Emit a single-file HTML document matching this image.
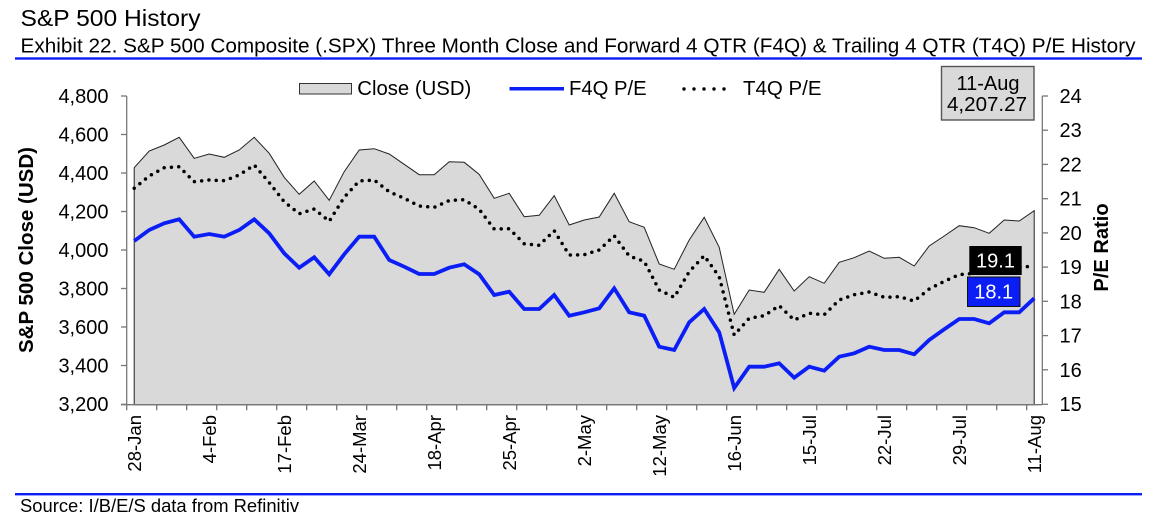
<!DOCTYPE html>
<html>
<head>
<meta charset="utf-8">
<style>
  html,body{margin:0;padding:0;background:#fff;}
  body{width:1175px;height:527px;overflow:hidden;}
  svg{display:block;font-family:"Liberation Sans",Arial,sans-serif;}
</style>
</head>
<body>
<svg width="1175" height="527" viewBox="0 0 1175 527" xmlns="http://www.w3.org/2000/svg">
  <!-- Header -->
  <text x="20.5" y="26" font-size="23.5" fill="#000" textLength="180" lengthAdjust="spacingAndGlyphs">S&amp;P 500 History</text>
  <text x="20.5" y="52.5" font-size="20" fill="#000" textLength="1115" lengthAdjust="spacingAndGlyphs">Exhibit 22. S&amp;P 500 Composite (.SPX) Three Month Close and Forward 4 QTR (F4Q) &amp; Trailing 4 QTR (T4Q) P/E History</text>
  <rect x="15" y="57.3" width="1127" height="2.4" fill="#0a1ef5"/>

  <!-- Legend -->
  <rect x="299.5" y="83.5" width="52" height="10.5" fill="#d9d9d9" stroke="#333" stroke-width="1"/>
  <text x="357.3" y="95" font-size="20" fill="#000" textLength="114" lengthAdjust="spacingAndGlyphs">Close (USD)</text>
  <line x1="509.5" y1="88.7" x2="564" y2="88.7" stroke="#0a1ef5" stroke-width="3.5"/>
  <text x="569" y="95" font-size="20" fill="#000" textLength="77.7" lengthAdjust="spacingAndGlyphs">F4Q P/E</text>
  <line x1="684" y1="89" x2="734" y2="89" stroke="#000" stroke-width="3.4" stroke-linecap="round" stroke-dasharray="0 10"/>
  <text x="743" y="95" font-size="20" fill="#000" textLength="78.5" lengthAdjust="spacingAndGlyphs">T4Q P/E</text>

  <!-- Date box -->
  <rect x="941.5" y="66.5" width="92.5" height="53.5" fill="#d9d9d9" stroke="#555" stroke-width="1.4"/>
  <text x="988" y="90" font-size="20" text-anchor="middle" fill="#000">11-Aug</text>
  <text x="987" y="111" font-size="20" text-anchor="middle" fill="#000" textLength="80" lengthAdjust="spacingAndGlyphs">4,207.27</text>

  <!-- Plot data -->
  <g transform="translate(134.2,0)">
    <polygon fill="#d9d9d9" stroke="#222" stroke-width="1" stroke-linejoin="miter"
      points="0,404.7 0,167.7 15,151 30,145 45,137.3 60,158.3 75,154 90,157.3 105,150 120,137.3 135,153.3 150,177.3 165,194.3 180,181 195,200.3 210,171.7 225,150 240,148.7 255,154 270,164.3 285,174.7 300,174.7 315,161.7 330,162.3 345,174.3 360,198.3 375,193.3 390,216.7 405,215.3 420,195.7 435,225 450,220 465,217 480,193.3 495,221.7 510,227.3 525,264 540,269.3 555,240 570,217.3 585,247.3 600,314.3 615,290 630,292.3 645,269.3 660,291 675,276.7 690,283.3 705,262.3 720,257.7 735,251 750,258.3 765,257.3 780,266 795,246 810,236 825,225.7 840,227.7 855,233.3 870,220 885,221 900,210.7 900,404.7"/>
    <polyline fill="none" stroke="#000" stroke-width="3.5" stroke-linecap="round" stroke-linejoin="round" stroke-dasharray="0 7.3"
      points="0,188.3 15,176 30,167.7 45,166.7 60,181.7 75,180 90,180.7 105,175 120,165 135,182.5 150,201.7 165,213.7 180,209 195,221.3 210,197.3 225,181 240,180 255,191.7 270,198.3 285,206 300,207.3 315,200.5 330,199.7 345,209.3 360,229 375,228.7 390,243.7 405,245.3 420,230.7 435,255 450,254.7 465,250 480,235.7 495,256 510,261.3 525,290 540,297.3 555,271.7 570,255.7 585,276.7 600,335 615,318.3 630,315.7 645,305.7 660,320 675,313.3 690,314.7 705,300 720,294.7 735,292 750,297.3 765,296.7 780,301 795,289 810,281.3 825,274.7 840,273.3 855,270.7 870,268.3 885,267.3 900,266"/>
    <polyline fill="none" stroke="#0a1ef5" stroke-width="3.8" stroke-linejoin="miter"
      points="0,241 15,230 30,223.3 45,219.3 60,236.7 75,234 90,236.7 105,230 120,219.3 135,233.3 150,253.3 165,267.7 180,257.3 195,274.3 210,254.3 225,236.7 240,236.7 255,260 270,266.7 285,274 300,274 315,267.7 330,264.3 345,274.3 360,295 375,291.7 390,309 405,309 420,295 435,315.7 450,312.3 465,308.3 480,288.3 495,312.3 510,315.7 525,346.7 540,350 555,322.3 570,309 585,332.3 600,388 615,366.7 630,366.7 645,363.3 660,377.7 675,366.7 690,370.7 705,356.7 720,353.3 735,346.7 750,350 765,350 780,354.3 795,340 810,329.3 825,319 840,319 855,323.3 870,312.3 885,312.3 900,298.3"/>
  </g>

  <!-- Value labels -->
  <rect x="969.3" y="246" width="52.4" height="29" fill="#000"/>
  <text x="995.5" y="267.5" font-size="20" text-anchor="middle" fill="#fff">19.1</text>
  <rect x="967.5" y="277" width="52.5" height="29.5" fill="#0a1ef5" stroke="#111" stroke-width="1"/>
  <text x="993.7" y="298.5" font-size="20" text-anchor="middle" fill="#fff">18.1</text>

  <!-- Left axis -->
  <g stroke="#777" stroke-width="1.3">
    <line x1="126.7" y1="96" x2="126.7" y2="404.7"/>
    <line x1="121" y1="96" x2="126.7" y2="96"/>
    <line x1="121" y1="134.5" x2="126.7" y2="134.5"/>
    <line x1="121" y1="173" x2="126.7" y2="173"/>
    <line x1="121" y1="211.5" x2="126.7" y2="211.5"/>
    <line x1="121" y1="250" x2="126.7" y2="250"/>
    <line x1="121" y1="288.5" x2="126.7" y2="288.5"/>
    <line x1="121" y1="327" x2="126.7" y2="327"/>
    <line x1="121" y1="365.5" x2="126.7" y2="365.5"/>
    <line x1="121" y1="404.3" x2="126.7" y2="404.3"/>
  </g>
  <g font-size="20" text-anchor="end" fill="#000">
    <text x="108.5" y="103">4,800</text>
    <text x="108.5" y="141.5">4,600</text>
    <text x="108.5" y="180">4,400</text>
    <text x="108.5" y="218.5">4,200</text>
    <text x="108.5" y="257">4,000</text>
    <text x="108.5" y="295.5">3,800</text>
    <text x="108.5" y="334">3,600</text>
    <text x="108.5" y="372.5">3,400</text>
    <text x="108.5" y="411">3,200</text>
  </g>
  <text transform="translate(33,250) rotate(-90)" font-size="20" font-weight="bold" text-anchor="middle" fill="#000" textLength="206" lengthAdjust="spacingAndGlyphs">S&amp;P 500 Close (USD)</text>

  <!-- Right axis -->
  <g stroke="#777" stroke-width="1.3">
    <line x1="1042.3" y1="96" x2="1042.3" y2="404.7"/>
    <line x1="1042.3" y1="96" x2="1048" y2="96"/>
    <line x1="1042.3" y1="130.2" x2="1048" y2="130.2"/>
    <line x1="1042.3" y1="164.4" x2="1048" y2="164.4"/>
    <line x1="1042.3" y1="198.7" x2="1048" y2="198.7"/>
    <line x1="1042.3" y1="232.9" x2="1048" y2="232.9"/>
    <line x1="1042.3" y1="267.1" x2="1048" y2="267.1"/>
    <line x1="1042.3" y1="301.3" x2="1048" y2="301.3"/>
    <line x1="1042.3" y1="335.6" x2="1048" y2="335.6"/>
    <line x1="1042.3" y1="369.8" x2="1048" y2="369.8"/>
    <line x1="1042.3" y1="404.3" x2="1048" y2="404.3"/>
  </g>
  <g font-size="20" fill="#000">
    <text x="1059.5" y="103">24</text>
    <text x="1059.5" y="137.2">23</text>
    <text x="1059.5" y="171.4">22</text>
    <text x="1059.5" y="205.7">21</text>
    <text x="1059.5" y="239.9">20</text>
    <text x="1059.5" y="274.1">19</text>
    <text x="1059.5" y="308.3">18</text>
    <text x="1059.5" y="342.6">17</text>
    <text x="1059.5" y="376.8">16</text>
    <text x="1059.5" y="411">15</text>
  </g>
  <text transform="translate(1108,247.5) rotate(-90)" font-size="20" font-weight="bold" text-anchor="middle" fill="#000" textLength="88.3" lengthAdjust="spacingAndGlyphs">P/E Ratio</text>

  <!-- Bottom axis -->
  <g stroke="#777" stroke-width="1.3">
    <line x1="121" y1="404.7" x2="1042.3" y2="404.7"/>
    <path d="M126.7 404.7v5.5M156.7 404.7v5.5M186.7 404.7v5.5M216.7 404.7v5.5M246.7 404.7v5.5M276.7 404.7v5.5M306.7 404.7v5.5M336.7 404.7v5.5M366.7 404.7v5.5M396.7 404.7v5.5M426.7 404.7v5.5M456.7 404.7v5.5M486.7 404.7v5.5M516.7 404.7v5.5M546.7 404.7v5.5M576.7 404.7v5.5M606.7 404.7v5.5M636.7 404.7v5.5M666.7 404.7v5.5M696.7 404.7v5.5M726.7 404.7v5.5M756.7 404.7v5.5M786.7 404.7v5.5M816.7 404.7v5.5M846.7 404.7v5.5M876.7 404.7v5.5M906.7 404.7v5.5M936.7 404.7v5.5M966.7 404.7v5.5M996.7 404.7v5.5M1026.7 404.7v5.5"/>
  </g>
  <g font-size="18.5" text-anchor="end" fill="#000">
    <text transform="translate(140.8,415) rotate(-90)">28-Jan</text>
    <text transform="translate(215.8,415) rotate(-90)">4-Feb</text>
    <text transform="translate(290.8,415) rotate(-90)">17-Feb</text>
    <text transform="translate(365.8,415) rotate(-90)">24-Mar</text>
    <text transform="translate(440.8,415) rotate(-90)">18-Apr</text>
    <text transform="translate(515.8,415) rotate(-90)">25-Apr</text>
    <text transform="translate(590.8,415) rotate(-90)">2-May</text>
    <text transform="translate(665.8,415) rotate(-90)">12-May</text>
    <text transform="translate(740.8,415) rotate(-90)">16-Jun</text>
    <text transform="translate(815.8,415) rotate(-90)">15-Jul</text>
    <text transform="translate(890.8,415) rotate(-90)">22-Jul</text>
    <text transform="translate(965.8,415) rotate(-90)">29-Jul</text>
    <text transform="translate(1040.8,415) rotate(-90)">11-Aug</text>
  </g>

  <!-- Footer -->
  <rect x="15" y="493" width="1127" height="2.4" fill="#0a1ef5"/>
  <text x="20" y="512" font-size="18.4" fill="#000">Source: I/B/E/S data from Refinitiv</text>
</svg>
</body>
</html>
